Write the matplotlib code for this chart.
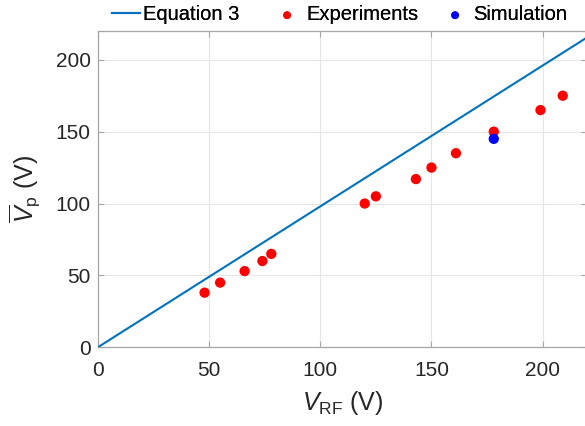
import matplotlib
matplotlib.use("Agg")
import matplotlib.pyplot as plt

# Equation 3 line (endpoints)
eq_x = [0, 220]
eq_y = [0, 215.6]

exp_x = [48, 55, 66, 74, 78, 120, 125, 143, 150, 161, 178, 199, 209]
exp_y = [38, 45, 53, 60, 65, 100, 105, 117, 125, 135, 150, 165, 175]

sim_x = [178]
sim_y = [145]

ticks = [0, 50, 100, 150, 200]


def main():
    plt.rcParams['font.family'] = ['Liberation Sans', 'DejaVu Sans']
    plt.rcParams['mathtext.fontset'] = 'custom'
    plt.rcParams['mathtext.rm'] = 'Liberation Sans'
    plt.rcParams['mathtext.it'] = 'Liberation Sans:italic'

    W, H = 585, 426
    fig = plt.figure(figsize=(W / 100, H / 100), dpi=100)
    ax = fig.add_axes([97.8 / W, 78.7 / H, 489.4 / W, 316.3 / H])

    h_eq, = ax.plot(eq_x, eq_y, color='#0072BD', linewidth=1.5, label='Equation 3', zorder=3)
    h_exp = ax.scatter(exp_x, exp_y, s=55, color='#ff0000', edgecolors='none',
                       label='Experiments', zorder=4)
    h_sim = ax.scatter(sim_x, sim_y, s=55, color='#0000ff', edgecolors='none',
                       label='Simulation', zorder=5)

    ax.set_xlim(0, 220)
    ax.set_ylim(0, 220)
    ax.set_xticks(ticks)
    ax.set_yticks(ticks)
    ax.grid(True, color='#e6e6e6', linewidth=0.8)
    ax.set_axisbelow(True)
    for s in ax.spines.values():
        s.set_color('#a6a6a6')
        s.set_linewidth(0.9)
    ax.tick_params(direction='in', length=4, width=0.8, color='#a6a6a6',
                   top=True, right=True, labelsize=15, labelcolor='#262626', pad=5)
    ax.tick_params(axis='x', pad=10)

    ax.set_xlabel(r'$V_\mathrm{RF}$ (V)', fontsize=18, color='#262626', labelpad=6)
    ax.set_ylabel(r'$\overline{V}_\mathrm{p}$ (V)', fontsize=18, color='#262626', labelpad=10)

    # legend entries placed one by one, like the spaced-out original
    fs = 14.5
    yc = 1 - 15 / H
    entries = [(h_eq, 112, 1.4, 0.15), (h_exp, 277, 1.0, 0.45), (h_sim, 445, 1.0, 0.4)]
    for h, x0, hl, tp in entries:
        leg = fig.legend(handles=[h], loc='center left', bbox_to_anchor=(x0 / W, yc),
                         frameon=False, fontsize=fs, handlelength=hl, handletextpad=tp,
                         borderpad=0, borderaxespad=0, markerscale=0.75, scatterpoints=1)
        fig.add_artist(leg)

    fig.savefig('out.png', dpi=100)
    plt.close(fig)


if __name__ == '__main__':
    main()
